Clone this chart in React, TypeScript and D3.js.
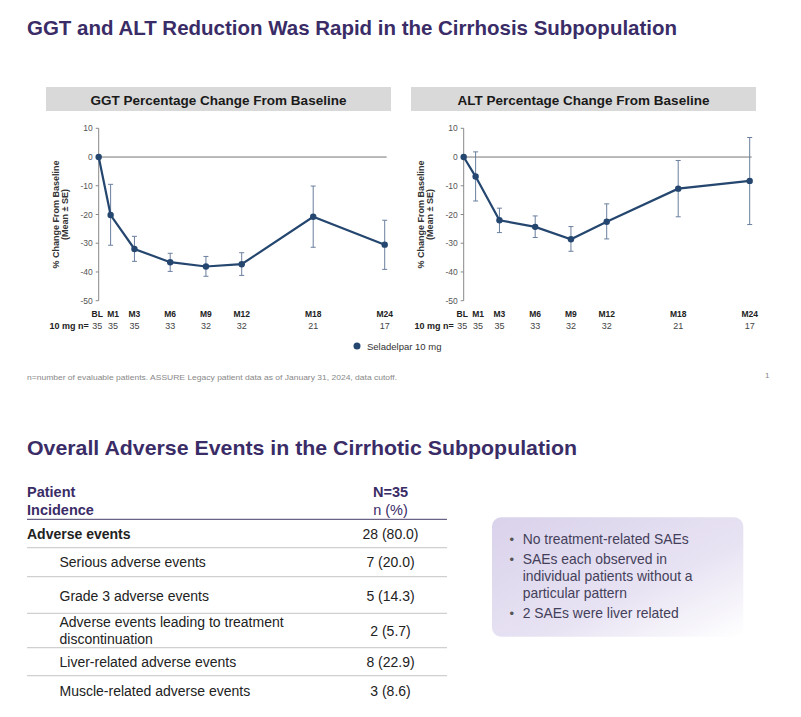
import React from "react";
import * as d3 from "d3";

const months = [0, 1, 3, 6, 9, 12, 18, 24];
const monthLabels = ["BL", "M1", "M3", "M6", "M9", "M12", "M18", "M24"];
const nValues = ["35", "35", "35", "33", "32", "32", "21", "17"];
const ggtMean = [0, -20.2, -32.0, -36.6, -38.1, -37.3, -20.8, -30.5];
const ggtHi = [0, -9.5, -27.6, -33.5, -34.6, -33.3, -10.1, -22.0];
const ggtLo = [0, -30.7, -36.3, -39.8, -41.5, -41.2, -31.4, -39.1];
const altMean = [0, -6.8, -22.0, -24.3, -28.6, -22.5, -11.0, -8.3];
const altHi = [0, 1.8, -17.8, -20.5, -24.2, -16.3, -1.2, 6.8];
const altLo = [0, -15.3, -26.3, -28.0, -32.8, -28.5, -20.8, -23.5];
const yTicks = [10, 0, -10, -20, -30, -40, -50];

const tableRows = [
  { label: ["Adverse events"], value: "28 (80.0)", bold: true },
  { label: ["Serious adverse events"], value: "7 (20.0)", bold: false },
  { label: ["Grade 3 adverse events"], value: "5 (14.3)", bold: false },
  { label: ["Adverse events leading to treatment", "discontinuation"], value: "2 (5.7)", bold: false },
  { label: ["Liver-related adverse events"], value: "8 (22.9)", bold: false },
  { label: ["Muscle-related adverse events"], value: "3 (8.6)", bold: false },
];
const bullets = [
  ["No treatment-related SAEs"],
  ["SAEs each observed in", "individual patients without a", "particular pattern"],
  ["2 SAEs were liver related"],
];

const FONT = "Liberation Sans, Arial, sans-serif";
const PURPLE = "#3a2c66";
const LINE = "#24466f";
const ERR = "#6a7f9e";
const labelShift = [-1.5, 2.5, 0, 0, 0, 0, 0, 0];

function Panel({ x0, title, mean, hi, lo }: { x0: number; title: string; mean: number[]; hi: number[]; lo: number[] }) {
  const x = d3.scaleLinear().domain([0, 24]).range([x0, x0 + 286]);
  const y = d3.scaleLinear().domain([-50, 10]).range([300.7, 128.3]);
  const line = d3
    .line<number>()
    .x((_, i) => x(months[i]))
    .y((d) => y(d));
  return (
    <g>
      <rect x={x0 - 52.7} y={87} width={345} height={24} fill="#d9d9d9" />
      <text x={x0 - 52.7 + 172.5} y={104.5} textAnchor="middle" fontSize={13.5} fontWeight="bold" fill="#1a1a1a" fontFamily={FONT}>
        {title}
      </text>
      <line x1={x0} x2={x0} y1={y(10)} y2={y(-50)} stroke="#888" strokeWidth={1} />
      {yTicks.map((t) => (
        <g key={t}>
          <line x1={x0 - 3} x2={x0} y1={y(t)} y2={y(t)} stroke="#888" />
          <text x={x0 - 6} y={y(t) + 3} textAnchor="end" fontSize={8.5} fill="#555" fontFamily={FONT}>
            {t}
          </text>
        </g>
      ))}
      <line x1={x0} x2={x0 + 288} y1={y(0)} y2={y(0)} stroke="#777" strokeWidth={1} />
      <text transform={`translate(${x0 - 40},${y(-20)}) rotate(-90)`} textAnchor="middle" fontSize={9} fontWeight="bold" fill="#333" fontFamily={FONT}>
        % Change From Baseline
      </text>
      <text transform={`translate(${x0 - 31},${y(-20)}) rotate(-90)`} textAnchor="middle" fontSize={9} fontWeight="bold" fill="#333" fontFamily={FONT}>
        (Mean ± SE)
      </text>
      {months.map((m, i) =>
        i === 0 ? null : (
          <g key={m} stroke={ERR} strokeWidth={1}>
            <line x1={x(m)} x2={x(m)} y1={y(hi[i])} y2={y(lo[i])} />
            <line x1={x(m) - 2.5} x2={x(m) + 2.5} y1={y(hi[i])} y2={y(hi[i])} />
            <line x1={x(m) - 2.5} x2={x(m) + 2.5} y1={y(lo[i])} y2={y(lo[i])} />
          </g>
        )
      )}
      <path d={line(mean) || ""} fill="none" stroke={LINE} strokeWidth={2.2} />
      {mean.map((v, i) => (
        <circle key={i} cx={x(months[i])} cy={y(v)} r={3.2} fill={LINE} />
      ))}
      {monthLabels.map((l, i) => (
        <text key={l} x={x(months[i]) + labelShift[i]} y={316.5} textAnchor="middle" fontSize={8.5} fontWeight="bold" fill="#222" fontFamily={FONT}>
          {l}
        </text>
      ))}
      <text x={x0 - 10} y={328.5} textAnchor="end" fontSize={9} fontWeight="bold" fill="#222" fontFamily={FONT}>
        10 mg n=
      </text>
      {nValues.map((n, i) => (
        <text key={i} x={x(months[i]) + labelShift[i]} y={328.5} textAnchor="middle" fontSize={9} fill="#444" fontFamily={FONT}>
          {n}
        </text>
      ))}
    </g>
  );
}

export default function App() {
  const rowLines = [547.7, 576.7, 613.3, 647.7, 675.7];
  const rowY = [[539], [567.3], [600.6], [627.3, 644.3], [667.3], [695.7]];
  const valY = [539, 567.3, 600.6, 635.8, 667.3, 695.7];
  const bulletY = [[544], [564, 581, 598], [617.5]];
  return (
    <svg width={801} height={717} style={{ position: "absolute", left: 0, top: 0, background: "#fff" }} fontFamily={FONT}>
      <defs>
        <linearGradient id="boxg" x1="0" y1="0" x2="1" y2="1">
          <stop offset="0" stopColor="#d9d2eb" />
          <stop offset="0.6" stopColor="#e8e3f3" />
          <stop offset="1" stopColor="#ffffff" />
        </linearGradient>
      </defs>
      <rect width={801} height={717} fill="#fff" />
      <text x={27} y={35} fontSize={21} fontWeight="bold" fill={PURPLE} textLength={650} lengthAdjust="spacingAndGlyphs">
        GGT and ALT Reduction Was Rapid in the Cirrhosis Subpopulation
      </text>
      <Panel x0={98.7} title="GGT Percentage Change From Baseline" mean={ggtMean} hi={ggtHi} lo={ggtLo} />
      <Panel x0={463.7} title="ALT Percentage Change From Baseline" mean={altMean} hi={altHi} lo={altLo} />
      <circle cx={357} cy={346} r={3.5} fill={LINE} />
      <text x={367} y={349.5} fontSize={9.5} fill="#333">
        Seladelpar 10 mg
      </text>
      <text x={27} y={380} fontSize={7} fill="#888" textLength={370} lengthAdjust="spacingAndGlyphs">
        n=number of evaluable patients. ASSURE Legacy patient data as of January 31, 2024, data cutoff.
      </text>
      <text x={765} y={378} fontSize={8} fill="#888">
        1
      </text>
      <text x={27} y={455} fontSize={21} fontWeight="bold" fill={PURPLE} textLength={550} lengthAdjust="spacingAndGlyphs">
        Overall Adverse Events in the Cirrhotic Subpopulation
      </text>
      <text x={27} y={497} fontSize={14.5} fontWeight="bold" fill={PURPLE}>
        Patient
      </text>
      <text x={27} y={515} fontSize={14.5} fontWeight="bold" fill={PURPLE}>
        Incidence
      </text>
      <text x={390.5} y={497} fontSize={14.5} fontWeight="bold" fill={PURPLE} textAnchor="middle">
        N=35
      </text>
      <text x={390.5} y={515} fontSize={14.5} fill={PURPLE} textAnchor="middle">
        n (%)
      </text>
      <line x1={27} x2={447} y1={519.3} y2={519.3} stroke="#6b6385" strokeWidth={1.2} />
      {rowLines.map((ly, i) => (
        <line key={i} x1={27} x2={447} y1={ly} y2={ly} stroke="#d0d0d0" strokeWidth={1.2} />
      ))}
      {tableRows.map((r, i) => (
        <g key={i}>
          {r.label.map((t, j) => (
            <text key={j} x={r.bold ? 27 : 59.5} y={rowY[i][j]} fontSize={14} fontWeight={r.bold ? "bold" : "normal"} fill="#222">
              {t}
            </text>
          ))}
          <text x={390.5} y={valY[i]} fontSize={14} fill="#222" textAnchor="middle">
            {r.value}
          </text>
        </g>
      ))}
      <rect x={492} y={517.3} width={251.3} height={119.4} rx={9} fill="url(#boxg)" />
      {bullets.map((b, i) => (
        <g key={i}>
          <text x={509.5} y={bulletY[i][0]} fontSize={13} fill="#555">
            •
          </text>
          {b.map((t, j) => (
            <text key={j} x={522.7} y={bulletY[i][j]} fontSize={13.9} fill="#44405a">
              {t}
            </text>
          ))}
        </g>
      ))}
    </svg>
  );
}
